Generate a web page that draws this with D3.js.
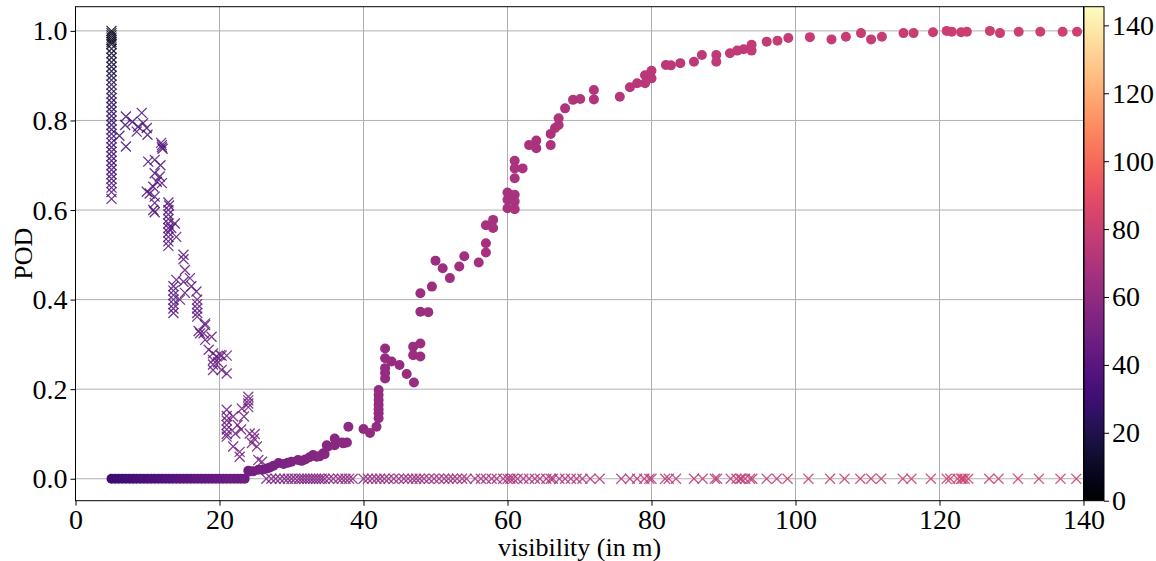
<!DOCTYPE html>
<html><head><meta charset="utf-8">
<script src="https://cdn.jsdelivr.net/npm/d3@7"></script>
<style>
html,body{margin:0;padding:0;background:#fff;}
svg text{font-family:"Liberation Serif","Times New Roman",serif;fill:#000;}
</style></head>
<body><svg id="chart" width="1156" height="561"></svg>
<script>
// ---------------- data ----------------
const xTicks = [0, 20, 40, 60, 80, 100, 120, 140];
const yTicks = [0.0, 0.2, 0.4, 0.6, 0.8, 1.0];
const cbarTicks = [0, 20, 40, 60, 80, 100, 120, 140];
const xLabel = "visibility (in m)";
const yLabel = "POD";

// colour value read per visibility (for the colorbar variable)
const colourStopX = [5, 15, 24, 30, 40, 60, 80, 100, 140];
const colourStopV = [29, 40, 48, 53, 60, 68, 74, 78, 81];

// crosses in the column at visibility 5
const columnX = 5;
const columnY = [1.0,0.995,0.99,0.985,0.98,0.975,0.97,0.96,0.95,0.94,0.93,0.92,0.91,0.90,0.89,0.88,0.87,0.86,0.85,0.84,0.83,0.82,0.81,0.80,0.79,0.78,0.77,0.76,0.75,0.74,0.73,0.72,0.71,0.70,0.69,0.68,0.67,0.66,0.65,0.64,0.625];
const columnC = [5,6,7,8,9,10,11,12,13,14,15,16,17,18,19,20,21,22,23,24,25,26,27,27,28,28,29,29,30,30,31,31,32,32,33,33,34,34,35,35,36];

// falling branch of crosses
const crossFall = [[6.1,0.766],[7.0,0.809],[6.9,0.79],[7.0,0.742],[7.9,0.797],[8.5,0.775],[8.7,0.786],[9.2,0.817],[9.4,0.794],[9.9,0.783],[10.0,0.768],[10.1,0.708],[11.0,0.712],[11.8,0.70],[12.0,0.745],[12.0,0.74],[11.9,0.75],[12.1,0.737],[11.0,0.682],[11.7,0.675],[11.3,0.663],[12.0,0.66],[10.8,0.652],[9.9,0.641],[10.3,0.637],[11.0,0.63],[10.8,0.60],[11.0,0.595],[11.0,0.616],[12.9,0.617],[13.0,0.61],[12.9,0.60],[12.9,0.59],[12.9,0.58],[12.9,0.57],[12.9,0.56],[12.9,0.55],[12.9,0.54],[12.9,0.53],[12.9,0.52],[13.8,0.57],[14.0,0.54],[13.3,0.56],[15.0,0.50],[15.0,0.49],[15.2,0.466],[14.0,0.444],[13.6,0.43],[13.6,0.42],[13.6,0.41],[13.6,0.40],[13.6,0.39],[13.6,0.38],[13.6,0.37],[15.0,0.44],[15.9,0.448],[16.1,0.43],[15.2,0.415],[14.5,0.40],[16.8,0.418],[16.9,0.40],[16.9,0.39],[16.9,0.38],[16.9,0.37],[16.9,0.362],[18.0,0.347],[17.8,0.325],[17.3,0.325],[18.9,0.317],[18.0,0.31],[18.5,0.288],[19.6,0.273],[20.3,0.275],[21.0,0.275],[18.0,0.343],[17.1,0.33],[19.1,0.28],[19.1,0.265],[19.1,0.255],[19.1,0.243],[20.1,0.276],[21.0,0.235],[20.3,0.243],[19.8,0.26],[24.0,0.183],[24.0,0.175],[24.0,0.168],[24.0,0.16],[21.0,0.154],[21.0,0.14],[21.0,0.13],[21.0,0.12],[21.0,0.11],[21.0,0.10],[21.0,0.094],[21.9,0.139],[23.1,0.157],[23.4,0.139],[22.2,0.101],[21.9,0.072],[22.8,0.049],[22.8,0.06],[24.2,0.101],[24.9,0.10],[24.8,0.09],[25.2,0.072],[25.4,0.042],[25.9,0.038],[24.5,0.08],[22.5,0.12],[23.0,0.11]];

// crosses lying at POD = 0
const crossZeroX = [26.5,27.2,27.8,28.4,29.0,29.5,30.0,30.5,31.0,31.4,31.8,32.2,32.6,33.0,33.4,33.8,34.2,34.6,35.2,35.8,36.5,37.0,37.5,38.0,38.5,40.0,40.6,41.2,41.8,42.3,42.9,43.5,44.2,44.9,45.6,46.2,46.8,47.3,47.8,48.4,49.1,49.8,50.5,51.2,51.8,52.4,53.0,53.7,54.3,55.5,56.3,57.0,57.8,58.5,59.4,60.0,60.4,60.8,61.4,62.2,63.0,63.8,64.5,65.4,66.0,66.3,67.2,68.0,68.8,69.6,70.4,71.5,72.8,75.8,77.0,78.0,79.0,79.7,80.0,81.9,82.4,83.4,85.9,87.1,88.8,89.1,91.0,91.8,92.3,92.5,93.0,93.7,94.0,96.0,97.4,98.9,101.8,104.8,106.8,109.0,110.5,111.9,114.9,116.1,118.8,121.0,121.5,122.5,123.0,123.2,123.5,124.0,126.9,128.2,130.9,133.8,136.8,139.0];

// circles lying at POD = 0
const circleZeroX = [5.0,5.5,6.0,6.5,7.0,7.5,8.0,8.5,9.0,9.5,10.0,10.5,11.0,11.5,12.0,12.5,13.0,13.5,14.0,14.5,15.0,15.5,16.0,16.5,17.0,17.5,18.0,18.5,19.0,19.5,20.0,20.5,21.0,21.5,22.0,22.5,23.0,23.5];

// rising branch of circles
const circleRise = [[24.0,0.018],[24.2,0.016],[24.7,0.017],[25.4,0.02],[26.0,0.02],[26.6,0.023],[27.0,0.025],[27.5,0.029],[28.2,0.035],[28.9,0.033],[29.5,0.036],[30.0,0.038],[30.9,0.042],[31.4,0.04],[31.9,0.043],[32.5,0.048],[33.0,0.053],[33.5,0.049],[33.9,0.05],[34.4,0.057],[34.6,0.055],[34.9,0.075],[35.1,0.072],[36.0,0.075],[36.0,0.09],[37.0,0.081],[37.2,0.079],[37.7,0.081],[37.9,0.116],[40.0,0.111],[40.9,0.102],[41.8,0.116],[42.1,0.135],[42.1,0.146],[42.1,0.155],[42.1,0.165],[42.1,0.176],[42.1,0.187],[42.1,0.198],[43.0,0.224],[43.0,0.236],[43.0,0.247],[43.0,0.269],[43.0,0.291],[43.9,0.262],[45.0,0.254],[46.0,0.234],[47.0,0.215],[46.9,0.295],[46.9,0.276],[47.9,0.302],[47.9,0.273],[47.9,0.414],[47.9,0.373],[49.0,0.372],[49.5,0.429],[50.0,0.487],[51.0,0.47],[52.0,0.448],[53.3,0.474],[54.0,0.497],[56.0,0.483],[57.0,0.505],[57.0,0.526],[57.0,0.566],[58.0,0.578],[58.0,0.56],[60.0,0.639],[60.0,0.623],[60.0,0.604],[61.0,0.634],[61.0,0.619],[61.0,0.602],[61.0,0.71],[61.0,0.693],[61.0,0.671],[62.1,0.693],[63.0,0.745],[64.0,0.755],[64.0,0.738],[66.0,0.745],[66.0,0.77],[66.6,0.783],[67.1,0.79],[67.1,0.805],[68.0,0.827],[69.1,0.846],[70.1,0.848],[72.0,0.868],[72.0,0.847],[75.6,0.853],[77.0,0.874],[78.0,0.883],[79.1,0.901],[79.1,0.883],[80.0,0.911],[80.0,0.894],[82.0,0.924],[82.7,0.923],[84.0,0.928],[85.9,0.931],[87.0,0.946],[89.0,0.946],[89.0,0.931],[90.9,0.95],[91.9,0.956],[92.8,0.959],[93.9,0.969],[93.9,0.956],[96.0,0.976],[97.5,0.978],[99.0,0.984],[102.0,0.986],[105.0,0.981],[107.0,0.987],[109.1,0.995],[110.5,0.981],[112.0,0.987],[115.0,0.995],[116.4,0.995],[119.1,0.997],[121.0,1.0],[121.7,0.998],[123.0,0.997],[123.8,0.998],[127.0,1.0],[128.4,0.995],[131.0,0.998],[134.0,0.998],[137.1,0.998],[139.1,0.998]];

// ---------------- drawing ----------------
const svg = d3.select("#chart");
const P = {left: 75.5, right: 1083.5, top: 6.7, bottom: 500.7};
const FS = "26px";   // axis titles
const TFS = "28px";  // tick labels
const FF = '"Liberation Serif", "Times New Roman", serif';

const x = d3.scaleLinear().domain([0, 140]).range([P.left, P.right]);
const y = d3.scaleLinear().domain([-0.049, 1.054]).range([P.bottom, P.top]);
const cMax = 145.5;
const colour = d3.scaleSequential(d3.interpolateMagma).domain([0, cMax]);
const cOfX = d3.scaleLinear().domain(colourStopX).range(colourStopV).clamp(true);

// grid
const grid = svg.append("g");
grid.selectAll(".gx").data(xTicks).join("line")
  .attr("x1", d => x(d)).attr("x2", d => x(d)).attr("y1", P.top).attr("y2", P.bottom)
  .attr("stroke", "#b0b0b0").attr("stroke-width", 1);
grid.selectAll(".gy").data(yTicks).join("line")
  .attr("x1", P.left).attr("x2", P.right).attr("y1", d => y(d)).attr("y2", d => y(d))
  .attr("stroke", "#b0b0b0").attr("stroke-width", 1);

const plot = svg.append("g");
const crossPath = "M-5,-5L5,5M-5,5L5,-5";

// circles
const circles = circleZeroX.map(v => ({x: v, y: 0, c: cOfX(v)}))
  .concat(circleRise.map(p => ({x: p[0], y: p[1], c: cOfX(p[0])})));
plot.selectAll(".dot").data(circles).join("circle")
  .attr("cx", d => x(d.x)).attr("cy", d => y(d.y)).attr("r", 5)
  .attr("fill", d => colour(d.c));

// crosses
const crosses = columnY.map((v, i) => ({x: columnX, y: v, c: columnC[i]}))
  .concat(crossFall.map(p => ({x: p[0], y: p[1], c: cOfX(p[0])})))
  .concat(crossZeroX.map(v => ({x: v, y: 0, c: cOfX(v)})));
plot.selectAll(".cross").data(crosses).join("path")
  .attr("d", crossPath)
  .attr("transform", d => `translate(${x(d.x)},${y(d.y)})`)
  .attr("fill", "none").attr("stroke", d => colour(d.c))
  .attr("stroke-width", 1.3).attr("stroke-opacity", 0.85);

// axes frame
svg.append("rect").attr("x", P.left).attr("y", P.top)
  .attr("width", P.right - P.left).attr("height", P.bottom - P.top)
  .attr("fill", "none").attr("stroke", "#000").attr("stroke-width", 1);

function styleAxis(a) {
  a.attr("font-family", null).attr("font-size", null);
  a.select(".domain").remove();
  a.selectAll("text").style("font-size", TFS).style("font-family", FF).style("fill", "#000");
  a.selectAll("line").attr("stroke", "#000");
}
const xAxis = svg.append("g").attr("transform", `translate(0,${P.bottom})`)
  .call(d3.axisBottom(x).tickValues(xTicks).tickFormat(d3.format("d")).tickSize(5).tickPadding(3));
const yAxis = svg.append("g").attr("transform", `translate(${P.left},0)`)
  .call(d3.axisLeft(y).tickValues(yTicks).tickFormat(d3.format(".1f")).tickSize(5).tickPadding(3));
styleAxis(xAxis); styleAxis(yAxis);

// axis labels
svg.append("text").attr("x", (P.left + P.right) / 2).attr("y", 556)
  .attr("text-anchor", "middle").style("font-size", FS).style("font-family", FF).text(xLabel);
svg.append("text").attr("transform", `translate(32,${(P.top + P.bottom) / 2}) rotate(-90)`)
  .attr("text-anchor", "middle").style("font-size", FS).style("font-family", FF).text(yLabel);

// colorbar
const cb = {x: 1084, w: 20};
const cy = d3.scaleLinear().domain([0, cMax]).range([P.bottom, P.top]);
const defs = svg.append("defs");
const grad = defs.append("linearGradient").attr("id", "magma")
  .attr("x1", 0).attr("y1", 1).attr("x2", 0).attr("y2", 0);
d3.range(0, 1.0001, 0.02).forEach(t => {
  grad.append("stop").attr("offset", t).attr("stop-color", d3.interpolateMagma(t));
});
svg.append("rect").attr("x", cb.x).attr("y", P.top).attr("width", cb.w)
  .attr("height", P.bottom - P.top).attr("fill", "url(#magma)")
  .attr("stroke", "#000").attr("stroke-width", 1);
const cAxis = svg.append("g").attr("transform", `translate(${cb.x + cb.w},0)`)
  .call(d3.axisRight(cy).tickValues(cbarTicks).tickFormat(d3.format("d")).tickSize(5).tickPadding(3));
styleAxis(cAxis);
</script></body></html>
